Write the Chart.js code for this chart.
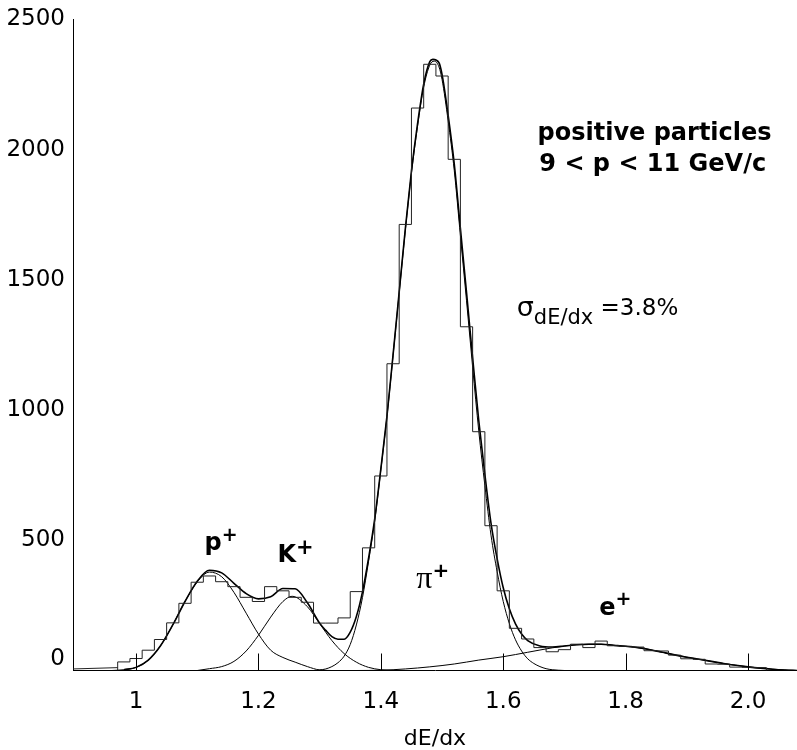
<!DOCTYPE html>
<html><head><meta charset="utf-8">
<script src="https://cdn.jsdelivr.net/npm/chart.js@4/dist/chart.umd.min.js"></script>
<style>html,body{margin:0;padding:0;background:#fff}#wrap{width:797px;height:750px;position:relative}</style>
</head><body><div id="wrap"><canvas id="c" width="797" height="750"></canvas></div>
<script>
// ---- data ----
const binEdges = [0.97,0.99,1.01,1.03,1.05,1.07,1.09,1.11,1.13,1.15,1.17,1.19,1.21,1.23,1.25,1.27,1.29,1.31,1.33,1.35,1.37,1.39,1.41,1.43,1.45,1.47,1.49,1.51,1.53,1.55,1.57,1.59,1.61,1.63,1.65,1.67,1.69,1.71,1.73,1.75,1.77,1.79,1.81,1.83,1.85,1.87,1.89,1.91,1.93,1.95,1.97,1.99,2.01,2.03];
const binCounts = [33,46,78,119,183,258,339,363,341,322,281,265,322,306,281,262,182,182,202,303,471,747,1178,1713,2160,2328,2283,1963,1320,917,556,306,162,121,88,72,80,101,88,113,95,93,90,76,75,59,45,43,25,24,13,12,11];

const tailX = [0.897,0.97];
const tailY = [6,11];

const protonX = [0.96,0.98,1.00,1.02,1.04,1.06,1.08,1.10,1.12,1.14,1.16,1.18,1.20,1.22,1.24,1.26,1.28,1.30,1.32];
const protonY = [0,3,12,40,95,175,265,340,378,360,300,220,140,78,50,32,15,2,0];

const kaonX = [1.10,1.12,1.14,1.16,1.18,1.20,1.22,1.24,1.255,1.28,1.30,1.32,1.34,1.36,1.38,1.40,1.42];
const kaonY = [0,7,15,35,75,135,205,265,285,245,180,115,65,32,12,3,0];

const pionX = [1.27,1.29,1.30,1.31,1.32,1.33,1.34,1.35,1.36,1.37,1.38,1.39,1.40,1.41,1.42,1.43,1.44,1.45,1.46,1.47,1.48,1.487,1.495,1.50,1.51,1.52,1.53,1.54,1.55,1.56,1.57,1.58,1.59,1.60,1.61,1.62,1.63,1.64,1.65,1.66,1.67,1.68,1.70];
const pionY = [0,0,2,6,15,30,55,100,175,280,420,575,770,975,1210,1450,1690,1910,2090,2240,2325,2340,2318,2270,2110,1920,1670,1420,1165,920,710,520,380,265,180,118,75,45,27,15,7,3,0];

const electronX = [1.36,1.40,1.44,1.48,1.52,1.56,1.60,1.64,1.68,1.70,1.72,1.74,1.76,1.78,1.80,1.82,1.84,1.86,1.88,1.90,1.92,1.94,1.96,1.98,2.00,2.02,2.04,2.06,2.08];
const electronY = [0,1,6,14,25,40,53,70,87,94,99,101,101,97,93,88,80,70,60,51,43,35,27,20,14,9,5,2,0];

const totalX = [0.98,1.00,1.02,1.04,1.06,1.08,1.10,1.12,1.14,1.16,1.18,1.20,1.22,1.24,1.26,1.28,1.30,1.31,1.32,1.33,1.34,1.35,1.36,1.37,1.38,1.39,1.40,1.41,1.42,1.43,1.44,1.45,1.46,1.47,1.48,1.485,1.495,1.50,1.51,1.52,1.53,1.54,1.55,1.56,1.57,1.58,1.59,1.60,1.61,1.62,1.63,1.64,1.66,1.68,1.70,1.72,1.74,1.76,1.78,1.80,1.82,1.84,1.86,1.88,1.90,1.92,1.94,1.96,1.98,2.00,2.02,2.04,2.06,2.08];
const totalY = [3,12,40,95,175,265,343,385,375,335,295,275,283,315,314,260,182,154,130,120,120,147,207,302,432,582,774,977,1213,1454,1696,1918,2100,2252,2338,2347,2334,2289,2132,1945,1698,1452,1201,960,753,566,430,318,237,179,140,115,94,90,94,99,101,101,97,93,88,80,70,60,51,43,35,27,20,14,9,5,2,0];

const xTickValues = [1,1.2,1.4,1.6,1.8,2.0];
const xTickLabels = ['1','1.2','1.4','1.6','1.8','2.0'];
const yTickValues = [0,500,1000,1500,2000,2500];
const yTickLabels = ['0','500','1000','1500','2000','2500'];
const xTitle = 'dE/dx';
const textTitle1 = 'positive particles';
const textTitle2 = '9 < p < 11 GeV/c';
const particleNames = ['p','K','\u03C0','e'];
const sigmaText = ['\u03C3','dE/dx',' =3.8%'];

// ---- build ----
const zip = (xs, ys) => xs.map((x, i) => ({x, y: ys[i]}));
const histPts = [{x: binEdges[0], y: 0}]
  .concat(binCounts.map((c, i) => ({x: binEdges[i], y: c})))
  .concat([{x: binEdges[binEdges.length - 1], y: 0}]);

const FONT = '"DejaVu Sans", Verdana, sans-serif';

const curve = (data, w) => ({
  data, borderColor: '#000', borderWidth: w, pointRadius: 0,
  fill: false, cubicInterpolationMode: 'monotone'
});

const annotations = {
  id: 'annotations',
  afterDraw(chart) {
    const {ctx, scales: {x, y}, chartArea} = chart;
    ctx.save();
    ctx.fillStyle = '#000';
    ctx.strokeStyle = '#000';
    ctx.lineWidth = 1;
    xTickValues.forEach(v => {
      const px = Math.round(x.getPixelForValue(v)) + 0.5;
      ctx.beginPath();
      ctx.moveTo(px, chartArea.bottom);
      ctx.lineTo(px, chartArea.bottom - 17);
      ctx.stroke();
    });
    ctx.font = '23px ' + FONT;
    ctx.textAlign = 'right';
    ctx.textBaseline = 'middle';
    ctx.fillText(yTickLabels[0], chartArea.left - 8, y.getPixelForValue(0) - 11);

    const txt = (s, xv, yv, font) => {
      ctx.font = font;
      ctx.textAlign = 'left';
      ctx.textBaseline = 'middle';
      ctx.fillText(s, x.getPixelForValue(xv), y.getPixelForValue(yv));
    };
    txt(textTitle1, 1.656, 2063, 'bold 24px ' + FONT);
    txt(textTitle2, 1.659, 1941, 'bold 24px ' + FONT);

    const lab = (name, xv, yv, font, plusSize) => {
      const px = x.getPixelForValue(xv), py = y.getPixelForValue(yv);
      ctx.textAlign = 'left';
      ctx.textBaseline = 'middle';
      ctx.font = font;
      ctx.fillText(name, px, py);
      const w = ctx.measureText(name).width;
      ctx.font = 'bold ' + plusSize + 'px ' + FONT;
      ctx.fillText('+', px + w, py - 8);
    };
    lab(particleNames[0], 1.112, 485, 'bold 24px ' + FONT, 19);
    lab(particleNames[1], 1.231, 439, 'bold 24px ' + FONT, 21);
    lab(particleNames[2], 1.458, 350, '32px "Liberation Serif", serif', 20);
    lab(particleNames[3], 1.757, 238, 'bold 24px ' + FONT, 19);

    const sx = x.getPixelForValue(1.622), sy = y.getPixelForValue(1390);
    ctx.textAlign = 'left';
    ctx.textBaseline = 'middle';
    ctx.font = '27px ' + FONT;
    ctx.fillText(sigmaText[0], sx, sy);
    let w = ctx.measureText(sigmaText[0]).width;
    ctx.font = '21px ' + FONT;
    ctx.fillText(sigmaText[1], sx + w, sy + 10);
    w += ctx.measureText(sigmaText[1]).width;
    ctx.font = '23px ' + FONT;
    ctx.fillText(sigmaText[2], sx + w, sy);
    ctx.restore();
  }
};

new Chart(document.getElementById('c'), {
  type: 'line',
  data: {
    datasets: [
      {data: histPts, borderColor: '#222', borderWidth: 1, pointRadius: 0, stepped: 'before', fill: false},
      {data: zip(tailX, tailY), borderColor: '#222', borderWidth: 1, pointRadius: 0, fill: false},
      curve(zip(protonX, protonY), 1),
      curve(zip(kaonX, kaonY), 1),
      curve(zip(pionX, pionY), 1),
      curve(zip(electronX, electronY), 1),
      curve(zip(totalX, totalY), 1.6)
    ]
  },
  options: {
    responsive: false,
    animation: false,
    parsing: false,
    layout: {padding: {top: 13, right: 0, left: 0, bottom: 0}},
    plugins: {legend: {display: false}, tooltip: {enabled: false}},
    scales: {
      x: {
        type: 'linear', min: 0.897, max: 2.08,
        afterBuildTicks: s => { s.ticks = xTickValues.map(v => ({value: v})); },
        afterFit: s => { s.height = 79.5; },
        ticks: {
          autoSkip: false, maxRotation: 0, color: '#000', padding: 17.5,
          font: {family: FONT, size: 23},
          callback: v => { const i = xTickValues.findIndex(t => Math.abs(t - v) < 1e-9); return i >= 0 ? xTickLabels[i] : ''; }
        },
        grid: {display: false, drawTicks: false},
        border: {display: true, color: '#000', width: 1},
        title: {display: true, text: xTitle, color: '#000', font: {family: FONT, size: 22, lineHeight: 1}, padding: {top: 0, bottom: 0}}
      },
      y: {
        type: 'linear', min: 0, max: 2500,
        afterBuildTicks: s => { s.ticks = yTickValues.map(v => ({value: v})); },
        afterFit: s => { s.width = 73; },
        ticks: {
          autoSkip: false, color: '#000', padding: 8,
          font: {family: FONT, size: 23, lineHeight: 1},
          callback: v => { const i = yTickValues.indexOf(v); return i > 0 ? yTickLabels[i] : ''; }
        },
        grid: {display: false, drawTicks: false},
        border: {display: true, color: '#000', width: 1}
      }
    }
  },
  plugins: [annotations]
});
</script></body></html>
